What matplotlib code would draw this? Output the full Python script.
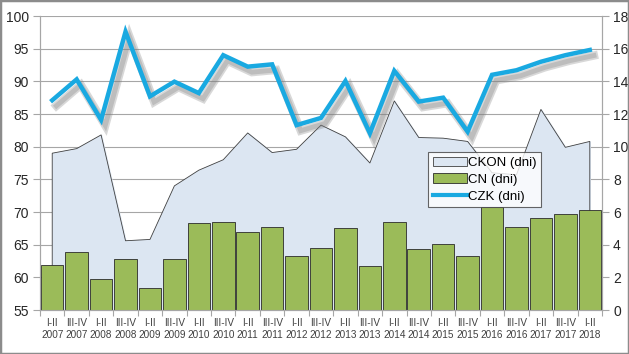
import matplotlib
import matplotlib.pyplot as plt
import matplotlib.patheffects as pe
from matplotlib.patches import Rectangle, Patch
from matplotlib.lines import Line2D
import numpy as np

matplotlib.use('Agg')
plt.rcParams['font.family'] = ['Liberation Sans', 'DejaVu Sans']

periods = ['I-II', 'III-IV'] * 11 + ['I-II']
years = ['2007', '2007', '2008', '2008', '2009', '2009', '2010', '2010', '2011', '2011',
         '2012', '2012', '2013', '2013', '2014', '2014', '2015', '2015', '2016', '2016',
         '2017', '2017', '2018']

# CKON (dni) - left axis
ckon = [79.0, 79.7, 81.8, 65.6, 65.8, 74.0, 76.4, 78.0, 82.1, 79.1, 79.6, 83.3,
        81.5, 77.5, 87.0, 81.4, 81.3, 80.8, 76.0, 75.7, 85.7, 79.9, 80.8]
# CN (dni) - right axis
cn = [2.77, 3.53, 1.88, 3.14, 1.37, 3.10, 5.35, 5.41, 4.76, 5.10, 3.29, 3.82,
      5.00, 2.69, 5.37, 3.75, 4.04, 3.33, 6.30, 5.10, 5.65, 5.86, 6.10]
# CZK (dni) - right axis
czk = [12.84, 14.12, 11.64, 17.04, 13.08, 13.98, 13.28, 15.60, 14.90, 15.04, 11.32, 11.76,
       14.02, 10.82, 14.64, 12.76, 13.00, 10.92, 14.40, 14.68, 15.20, 15.60, 15.92]

labels = [f"{p}\n{y}" for p, y in zip(periods, years)]
x = np.arange(len(labels))

fig = plt.figure(figsize=(6.29, 3.54), dpi=100)
ax = fig.add_axes([40 / 629, 1 - 310 / 354, 562 / 629, 294 / 354])
ax2 = ax.twinx()

grid_c = '#a6a6a6'

# area
ax.fill_between(x, ckon, 55, color='#dce6f2', zorder=1)
ax.plot(np.r_[x[0], x, x[-1]], np.r_[55, ckon, 55], color='#404040', lw=0.6, zorder=2)
ax.set_ylim(55, 100)
ax.set_yticks(range(55, 101, 5))
ax.yaxis.grid(True, color=grid_c, lw=0.8, zorder=0)
ax.set_axisbelow(True)
ax.set_xlim(-0.5, len(x) - 0.5)

# bars and line
ax2.bar(x, cn, width=0.92, color='#9bbb59', edgecolor='#2b2b2b', lw=0.6, zorder=2)
ax2.plot(x, czk, color='#19a9e1', lw=3.2, solid_joinstyle='miter', zorder=3,
         path_effects=[pe.SimpleLineShadow(offset=(3, -4), shadow_color='#7f7f7f', alpha=0.3, linewidth=6),
                       pe.SimpleLineShadow(offset=(3, -4), shadow_color='#7f7f7f', alpha=0.3, linewidth=3.5),
                       pe.Normal()])
ax2.set_ylim(0, 18)
ax2.set_yticks(range(0, 19, 2))

for a in (ax, ax2):
    for s in a.spines.values():
        s.set_color(grid_c)
        s.set_linewidth(0.8)
    a.spines['top'].set_visible(False)
    a.tick_params(axis='y', colors=grid_c, labelcolor='#262626', labelsize=10, length=5, width=0.8, pad=3)

ax.set_xticks(x)
ax.set_xticklabels(labels)
ax.set_xticks(np.arange(-0.5, len(x), 1), minor=True)
ax.tick_params(axis='x', which='major', length=0, labelsize=7.2, labelcolor='#404040', pad=6)
ax.tick_params(axis='x', which='minor', length=4, color=grid_c, width=0.8)

handles = [Patch(facecolor='#dce6f2', edgecolor='#404040', lw=0.6),
           Patch(facecolor='#9bbb59', edgecolor='#2b2b2b', lw=0.6),
           Line2D([], [], color='#19a9e1', lw=3)]
leg = ax2.legend(handles, ['CKON (dni)', 'CN (dni)', 'CZK (dni)'],
                 loc='upper left', bbox_to_anchor=(388 / 562, 1 - 136 / 294),
                 fontsize=9.5, frameon=True, fancybox=False, borderpad=0.35,
                 handlelength=2.6, handletextpad=0.1, labelspacing=0.35,
                 borderaxespad=0)
leg.get_frame().set_edgecolor('#404040')
leg.get_frame().set_linewidth(0.8)
leg.set_zorder(10)

fig.add_artist(Rectangle((0, 0), 1, 1, transform=fig.transFigure, fill=False,
                         edgecolor='#8c8c8c', lw=2.5))

plt.savefig("out.png", dpi=100)
